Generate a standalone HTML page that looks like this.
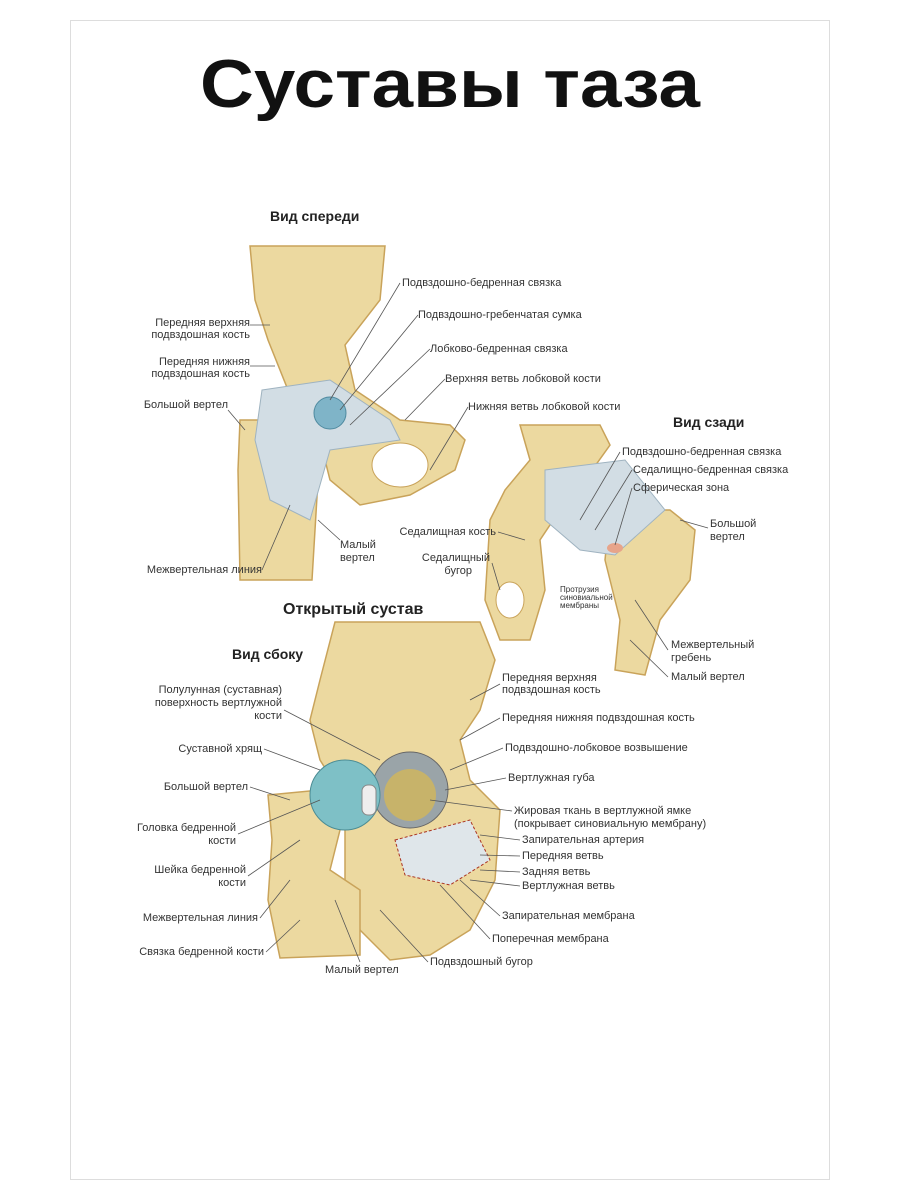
<!DOCTYPE html>
<html><head><meta charset="utf-8"><style>
html,body{margin:0;padding:0;background:#fff;width:900px;height:1200px;overflow:hidden}
svg text{font-family:"Liberation Sans",sans-serif;fill:#333;font-size:11px}
</style></head><body>
<svg width="900" height="1200" viewBox="0 0 900 1200" xmlns="http://www.w3.org/2000/svg">
<rect x="70.5" y="20.5" width="759" height="1159" fill="#fff" stroke="#ddd"/>
<text x="450" y="107" text-anchor="middle" textLength="500" lengthAdjust="spacingAndGlyphs" style="font-size:68px;font-weight:bold;fill:#111">Суставы таза</text>

<g fill="#ecd9a0" stroke="#c9a35a" stroke-width="1.5">
<path d="M250 246 L385 246 L380 300 L345 345 L355 390 L400 420 L450 425 L465 440 L455 470 L410 495 L360 505 L330 480 L320 440 L305 420 L290 395 L268 340 L255 300 Z"/>
<path d="M240 420 L300 420 L318 480 L312 580 L240 580 L238 470 Z"/>
<path d="M520 425 L600 425 L610 445 L585 480 L560 510 L540 540 L545 590 L530 640 L500 640 L485 600 L490 520 L505 490 L530 460 Z"/>
<path d="M610 510 L670 510 L695 530 L690 580 L660 620 L645 675 L615 670 L620 620 L605 560 Z"/>
<path d="M335 622 L480 622 L495 660 L480 710 L460 740 L470 780 L500 810 L495 880 L470 930 L430 955 L390 960 L360 930 L345 880 L345 800 L320 760 L310 720 L320 680 Z"/>
<path d="M268 795 L320 790 L340 830 L330 870 L360 890 L360 955 L280 958 L268 900 L272 840 Z"/>
</g>
<ellipse cx="400" cy="465" rx="28" ry="22" fill="#fff" stroke="#c9a35a"/>
<ellipse cx="510" cy="600" rx="14" ry="18" fill="#fff" stroke="#c9a35a"/>
<path d="M262 390 L330 380 L390 420 L400 440 L330 450 L310 520 L270 500 L255 440 Z" fill="#d2dde4" stroke="#9fb3c0"/>
<circle cx="330" cy="413" r="16" fill="#7fb4c8" stroke="#4f8aa0"/>
<path d="M545 470 L625 460 L665 510 L615 555 L580 550 L545 520 Z" fill="#d2dde4" stroke="#9fb3c0"/>
<ellipse cx="615" cy="548" rx="8" ry="5" fill="#e7a48a"/>
<path d="M395 840 L470 820 L490 860 L450 885 L405 875 Z" fill="#dfe6ea" stroke="#a32" stroke-dasharray="3,2"/>
<circle cx="410" cy="790" r="38" fill="#9aa4a8" stroke="#666"/>
<circle cx="410" cy="795" r="26" fill="#c7b36a"/>
<circle cx="345" cy="795" r="35" fill="#7ec0c6" stroke="#4b8c94"/>
<rect x="362" y="785" width="14" height="30" rx="6" fill="#eee" stroke="#888"/>

<g stroke="#555" stroke-width="0.8" fill="none">
<path d="M400 283 L330 400"/><path d="M418 315 L340 410"/><path d="M430 349 L350 425"/><path d="M445 379 L405 420"/><path d="M468 407 L430 470"/>
<path d="M250 325 L270 325"/><path d="M250 366 L275 366"/><path d="M228 410 L245 430"/><path d="M262 570 L290 505"/><path d="M340 540 L318 520"/>
<path d="M620 452 L580 520"/><path d="M632 470 L595 530"/><path d="M632 488 L615 545"/><path d="M708 528 L680 520"/><path d="M498 532 L525 540"/><path d="M492 563 L500 590"/><path d="M668 650 L635 600"/><path d="M668 677 L630 640"/>
<path d="M500 684 L470 700"/><path d="M500 718 L460 740"/><path d="M503 748 L450 770"/><path d="M506 778 L445 790"/><path d="M512 811 L430 800"/><path d="M520 840 L480 835"/><path d="M520 856 L480 855"/><path d="M520 872 L480 870"/><path d="M520 886 L470 880"/><path d="M500 916 L460 880"/><path d="M490 939 L440 885"/><path d="M428 962 L380 910"/>
<path d="M284 710 L380 760"/><path d="M264 749 L320 770"/><path d="M250 787 L290 800"/><path d="M238 834 L320 800"/><path d="M248 876 L300 840"/><path d="M260 918 L290 880"/><path d="M266 952 L300 920"/><path d="M360 962 L335 900"/>
</g>

<text x="270" y="221" style="font-size:14px;font-weight:bold;fill:#222">Вид спереди</text>
<text x="402" y="286">Подвздошно-бедренная связка</text>
<text x="418" y="318">Подвздошно-гребенчатая сумка</text>
<text x="430" y="352">Лобково-бедренная связка</text>
<text x="445" y="382">Верхняя ветвь лобковой кости</text>
<text x="468" y="410">Нижняя ветвь лобковой кости</text>
<g text-anchor="end"><text x="250" y="326">Передняя верхняя</text><text x="250" y="338">подвздошная кость</text>
<text x="250" y="365">Передняя нижняя</text><text x="250" y="377">подвздошная кость</text>
<text x="228" y="408">Большой вертел</text><text x="262" y="573">Межвертельная линия</text></g>
<text x="340" y="548">Малый</text><text x="340" y="561">вертел</text>

<text x="673" y="427" style="font-size:14px;font-weight:bold;fill:#222">Вид сзади</text>
<text x="622" y="455">Подвздошно-бедренная связка</text>
<text x="633" y="473">Седалищно-бедренная связка</text>
<text x="633" y="491">Сферическая зона</text>
<text x="710" y="527">Большой</text><text x="710" y="540">вертел</text>
<g text-anchor="end"><text x="496" y="535">Седалищная кость</text><text x="490" y="561">Седалищный</text><text x="472" y="574">бугор</text></g>
<text x="560" y="592" style="font-size:8px">Протрузия</text><text x="560" y="600" style="font-size:8px">синовиальной</text><text x="560" y="608" style="font-size:8px">мембраны</text>
<text x="671" y="648">Межвертельный</text><text x="671" y="661">гребень</text>
<text x="671" y="680">Малый вертел</text>

<text x="283" y="614" style="font-size:16px;font-weight:bold;fill:#222">Открытый сустав</text>
<text x="232" y="659" style="font-size:14px;font-weight:bold;fill:#222">Вид сбоку</text>
<text x="502" y="681">Передняя верхняя</text><text x="502" y="693">подвздошная кость</text>
<text x="502" y="721">Передняя нижняя подвздошная кость</text>
<text x="505" y="751">Подвздошно-лобковое возвышение</text>
<text x="508" y="781">Вертлужная губа</text>
<text x="514" y="814">Жировая ткань в вертлужной ямке</text>
<text x="514" y="827">(покрывает синовиальную мембрану)</text>
<text x="522" y="843">Запирательная артерия</text>
<text x="522" y="859">Передняя ветвь</text>
<text x="522" y="875">Задняя ветвь</text>
<text x="522" y="889">Вертлужная ветвь</text>
<text x="502" y="919">Запирательная мембрана</text>
<text x="492" y="942">Поперечная мембрана</text>
<text x="430" y="965">Подвздошный бугор</text>
<g text-anchor="end"><text x="282" y="693">Полулунная (суставная)</text><text x="282" y="706">поверхность вертлужной</text><text x="282" y="719">кости</text>
<text x="262" y="752">Суставной хрящ</text><text x="248" y="790">Большой вертел</text>
<text x="236" y="831">Головка бедренной</text><text x="236" y="844">кости</text>
<text x="246" y="873">Шейка бедренной</text><text x="246" y="886">кости</text>
<text x="258" y="921">Межвертельная линия</text><text x="264" y="955">Связка бедренной кости</text></g>
<text x="325" y="973">Малый вертел</text>
</svg>
</body></html>
